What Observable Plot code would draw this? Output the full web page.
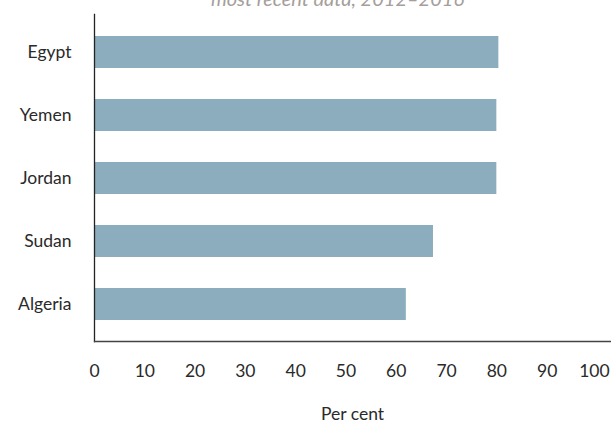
<!DOCTYPE html>
<html>
<head>
<meta charset="utf-8">
<script src="https://cdn.jsdelivr.net/npm/d3@7"></script>
<script src="https://cdn.jsdelivr.net/npm/@observablehq/plot@0.6"></script>
<style>
  html, body { margin: 0; padding: 0; background: #fff; }
  #wrap { position: relative; width: 611px; height: 425px; overflow: hidden; }
  #title { position: absolute; left: 0; width: 611px; padding-left: 64px; box-sizing: border-box; text-align: center; top: -14px;
    font-family: Lato, sans-serif; font-style: italic; font-size: 20px; color: #a59e9b; white-space: nowrap; }
</style>
</head>
<body>
<div id="wrap">
  <div id="chart"></div>
  <div id="title">most recent data, 2012–2016</div>
</div>
<script>
const countries = ["Egypt", "Yemen", "Jordan", "Sudan", "Algeria"];
const values = [80.4, 80.0, 80.0, 67.4, 62.0];
const xTicks = [0, 10, 20, 30, 40, 50, 60, 70, 80, 90, 100];

const data = countries.map((c, i) => ({country: c, value: values[i]}));
const lastTick = xTicks[xTicks.length - 1];
const innerTicks = xTicks.slice(0, -1);

const chart = Plot.plot({
  width: 611,
  height: 425,
  marginLeft: 94,
  marginRight: 1,
  marginTop: 14,
  marginBottom: 84,
  style: {fontFamily: "Lato, sans-serif", fontSize: "17.5px", color: "#2a2a2a", background: "#fff"},
  x: {domain: [0, 102.6], ticks: xTicks, tickFormat: d => String(d)},
  y: {domain: countries, paddingInner: 0.5, paddingOuter: 0.345},
  marks: [
    Plot.barX(data, {x: "value", y: "country", fill: "#8badbd"}),
    Plot.axisX({ticks: innerTicks, tickSize: 0, tickPadding: 23, label: null, fill: "#2a2a2a"}),
    Plot.axisX({ticks: [lastTick], tickSize: 0, tickPadding: 23, label: null, fill: "#2a2a2a", dx: -3}),
    Plot.axisY({tickSize: 0, tickPadding: 23, label: null, fill: "#2a2a2a"}),
    Plot.text(["Per cent"], {frameAnchor: "bottom", dy: 78, fill: "#2a2a2a", fontSize: 17.5}),
    Plot.frame({anchor: "left", stroke: "#222", strokeWidth: 1.3}),
    Plot.frame({anchor: "bottom", stroke: "#444", strokeWidth: 1.3})
  ]
});
document.getElementById("chart").appendChild(chart);
</script>
</body>
</html>
